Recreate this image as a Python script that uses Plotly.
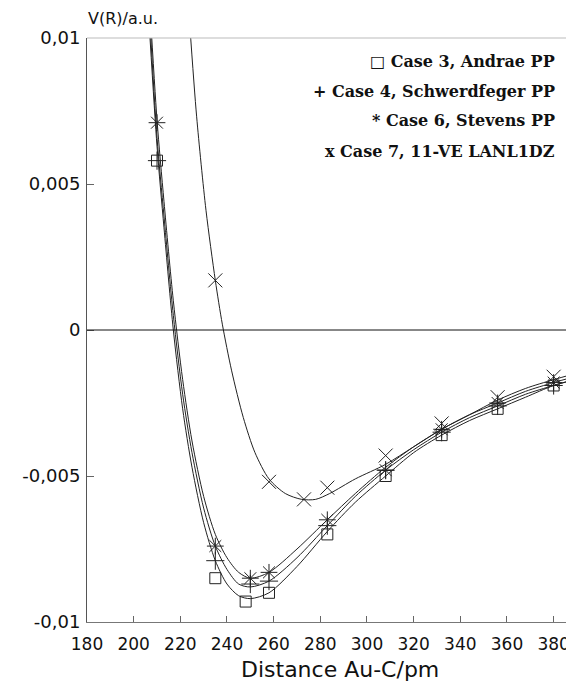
import plotly.graph_objects as go

# ---- measured points (R in pm, V in a.u.) ----
R_case3 = [210, 235, 248, 258, 283, 308, 332, 356, 380]
V_case3 = [0.0058, -0.0085, -0.0093, -0.0090, -0.0070, -0.0050, -0.0036, -0.0027, -0.0019]

R_case4 = [210, 235, 250, 258, 283, 308, 332, 356, 380]
V_case4 = [0.0058, -0.0079, -0.0087, -0.0086, -0.0067, -0.0048, -0.0035, -0.0026, -0.0019]

R_case6 = [210, 235, 250, 258, 283, 308, 332, 356, 380]
V_case6 = [0.0071, -0.0074, -0.0085, -0.0083, -0.0065, -0.0048, -0.0034, -0.0025, -0.0018]

R_case7 = [235, 258, 273, 283, 308, 332, 356, 380]
V_case7 = [0.0017, -0.0052, -0.0058, -0.0054, -0.0043, -0.0032, -0.0023, -0.0016]

# ---- fitted curves ----
fit3_R = [207, 210, 213, 217, 221, 225, 230, 235, 240, 245, 250, 258, 270, 283, 295, 308, 320, 332, 344, 356, 368, 380, 389]
fit3_V = [0.0100, 0.0063, 0.0035, 0.0000, -0.0027, -0.0047, -0.0066, -0.0079, -0.0087, -0.0091, -0.0092, -0.0090,
          -0.0081, -0.0069, -0.0059, -0.0050, -0.0042, -0.0036, -0.0031, -0.0027, -0.0023, -0.0019, -0.0017]

fit4_R = [207, 210, 213, 217, 221, 225, 230, 235, 240, 245, 250, 258, 270, 283, 295, 308, 320, 332, 344, 356, 368, 380, 389]
fit4_V = [0.0105, 0.0066, 0.0039, 0.0005, -0.0022, -0.0042, -0.0061, -0.0074, -0.0082, -0.0087, -0.0088, -0.0086,
          -0.0078, -0.0067, -0.0057, -0.0048, -0.0041, -0.0035, -0.0030, -0.0026, -0.0022, -0.0019, -0.0017]

fit6_R = [207, 210, 213, 217, 221, 225, 230, 235, 240, 245, 250, 258, 270, 283, 295, 308, 320, 332, 344, 356, 368, 380, 389]
fit6_V = [0.0110, 0.0072, 0.0044, 0.0010, -0.0017, -0.0038, -0.0057, -0.0070, -0.0078, -0.0083, -0.0085, -0.0083,
          -0.0075, -0.0065, -0.0056, -0.0047, -0.0040, -0.0034, -0.0029, -0.0025, -0.0021, -0.0018, -0.0016]

fit7_R = [224, 227, 231, 235, 238, 242, 247, 252, 258, 265, 272, 278, 284, 295, 308, 320, 332, 344, 356, 368, 380, 389]
fit7_V = [0.0105, 0.0073, 0.0041, 0.0017, 0.0002, -0.0014, -0.0030, -0.0042, -0.0051, -0.0056, -0.0058, -0.0058,
          -0.0056, -0.0051, -0.0046, -0.0040, -0.0034, -0.0029, -0.0024, -0.0020, -0.0017, -0.0015]

legend_texts = ["\u25a1 Case 3, Andrae PP", "+ Case 4, Schwerdfeger PP",
                "* Case 6, Stevens PP", "x Case 7, 11-VE LANL1DZ"]

y_tickvals = [0.01, 0.005, 0, -0.005, -0.01]
y_ticktext = ["0,01", "0,005", "0", "-0,005", "-0,01"]
x_tickvals = [180, 200, 220, 240, 260, 280, 300, 320, 340, 360, 380]

fig = go.Figure()

line_style = dict(color="#222222", width=1, shape="spline", smoothing=0.8)
for fr, fv in [(fit3_R, fit3_V), (fit4_R, fit4_V), (fit6_R, fit6_V), (fit7_R, fit7_V)]:
    fig.add_trace(go.Scatter(x=fr, y=fv, mode="lines", line=line_style,
                             hoverinfo="skip", showlegend=False))

markers = [
    (R_case3, V_case3, "square-open", 11),
    (R_case4, V_case4, "cross-thin-open", 13),
    (R_case6, V_case6, "asterisk-open", 14),
    (R_case7, V_case7, "x-thin-open", 14),
]
for r, v, sym, sz in markers:
    fig.add_trace(go.Scatter(x=r, y=v, mode="markers", showlegend=False,
                             marker=dict(symbol=sym, size=sz, color="#222222",
                                         line=dict(color="#222222", width=1))))

# zero line
fig.add_shape(type="line", xref="paper", x0=0, x1=1, yref="y", y0=0, y1=0,
              line=dict(color="#111111", width=1))
# light frame top/right
fig.add_shape(type="line", xref="paper", x0=0, x1=1, yref="paper", y0=1, y1=1,
              line=dict(color="#bbbbbb", width=1))
fig.add_shape(type="line", xref="paper", x0=1, x1=1, yref="paper", y0=0, y1=1,
              line=dict(color="#bbbbbb", width=1))

leg_y = [0.960, 0.908, 0.858, 0.806]
for t, yy in zip(legend_texts, leg_y):
    fig.add_annotation(text=t, xref="paper", yref="paper", x=0.967, y=yy,
                       xanchor="right", yanchor="middle", showarrow=False,
                       font=dict(family="DejaVu Serif", size=16, color="#111111", weight="bold"))

fig.add_annotation(text="V(R)/a.u.", xref="paper", yref="paper", x=-0.003, y=1,
                   xanchor="left", yanchor="middle", yshift=20, showarrow=False,
                   font=dict(family="DejaVu Sans", size=16, color="#111111"))
fig.add_annotation(text="Distance Au-C/pm", xref="paper", yref="paper", x=0.52, y=0,
                   xanchor="center", yanchor="middle", yshift=-47, showarrow=False,
                   font=dict(family="DejaVu Sans", size=22, color="#111111"))

# page body adds an 8 px margin; size the figure so the plot area lands where the reference has it
fig.update_layout(
    width=566, height=674,
    margin=dict(l=79, r=1, t=30, b=60, autoexpand=False),
    paper_bgcolor="white", plot_bgcolor="white",
    font=dict(family="DejaVu Sans", size=16, color="#111111"),
    showlegend=False,
)
fig.update_xaxes(range=[180, 388.3], tickvals=x_tickvals, ticks="inside", ticklen=6,
                 tickcolor="#666666", showgrid=False, zeroline=False, automargin=False,
                 showline=True, linecolor="#777777", linewidth=1, ticklabelstandoff=7,
                 tickfont=dict(family="DejaVu Sans", size=17))
fig.update_yaxes(range=[-0.01, 0.01], tickvals=y_tickvals, ticktext=y_ticktext,
                 ticks="inside", ticklen=7, tickcolor="#666666", showgrid=False,
                 zeroline=False, automargin=False, showline=True, linecolor="#555555",
                 linewidth=1, ticklabelstandoff=2,
                 tickfont=dict(family="DejaVu Sans", size=18))

fig.write_html("out.html")
